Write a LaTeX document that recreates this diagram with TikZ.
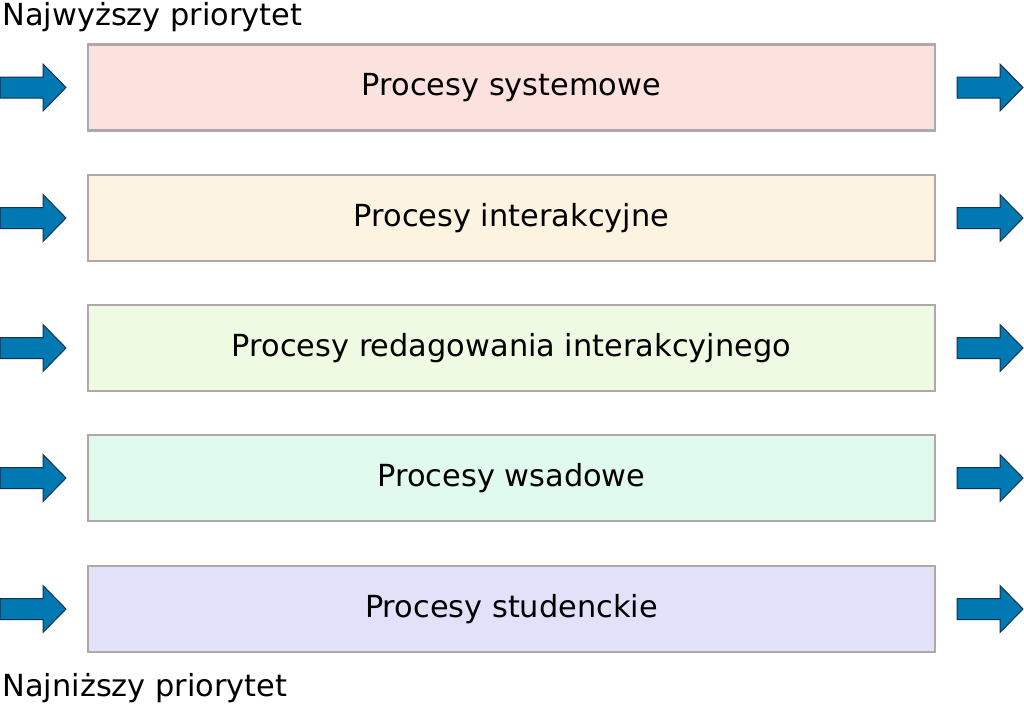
\documentclass[tikz,border=0pt]{standalone}
\usepackage{fontspec}
\setmainfont{DejaVu Sans}
\usetikzlibrary{positioning}

\definecolor{arrowblue}{RGB}{0,121,178}
\definecolor{arrowedge}{RGB}{20,50,80}
\definecolor{boxedge}{RGB}{176,168,168}
\definecolor{fillsys}{RGB}{252,226,222}
\definecolor{fillint}{RGB}{252,243,225}
\definecolor{fillred}{RGB}{239,250,226}
\definecolor{fillwsd}{RGB}{225,250,238}
\definecolor{fillstd}{RGB}{225,225,250}

\tikzset{every picture/.style={line width=0.75pt}}
\tikzset{
  procbox/.style={draw=boxedge, line width=1.6pt, minimum width=635.25pt, minimum height=64.5pt, inner sep=0pt, font=\fontsize{22.8}{27}\selectfont},
  prio/.style={anchor=base west, inner sep=0pt, font=\fontsize{22.8}{27}\selectfont},
  blockarrow/.pic={
    \draw [fill=arrowblue, draw=arrowedge, line width=0.75pt] (0,-10.5) -- (43,-10.5) -- (43,-23.5) -- (66,0) -- (43,23.5) -- (43,10.5) -- (0,10.5) -- cycle ;
  }
}

\begin{document}
\begin{tikzpicture}[x=0.75pt,y=0.75pt,yscale=-1,xscale=1]
	\useasboundingbox (0,0) rectangle (1024,704);

	%Shape: Rectangle
	\node [procbox, fill=fillsys] (sys) at (511.5,87.5) {Procesy systemowe};
	%Shape: Rectangle
	\node [procbox, fill=fillint] (int) at (511.5,218) {Procesy interakcyjne};
	%Shape: Rectangle
	\node [procbox, fill=fillred] (red) at (511.5,348) {Procesy redagowania interakcyjnego};
	%Shape: Rectangle
	\node [procbox, fill=fillwsd] (wsd) at (511.5,478) {Procesy wsadowe};
	%Shape: Rectangle
	\node [procbox, fill=fillstd] (std) at (511.5,609) {Procesy studenckie};

	%Shape: Right Arrow
	\foreach \p in {sys,int,red,wsd,std} {
		\path (0,0 |- \p.center) pic {blockarrow};
		\path (957,0 |- \p.center) pic {blockarrow};
	}

	% Text Node
	\node [prio] (top) at (2,25) {Najwyższy priorytet};
	% Text Node
	\node [prio] (bot) at (2,696) {Najniższy priorytet};

\end{tikzpicture}
\end{document}
